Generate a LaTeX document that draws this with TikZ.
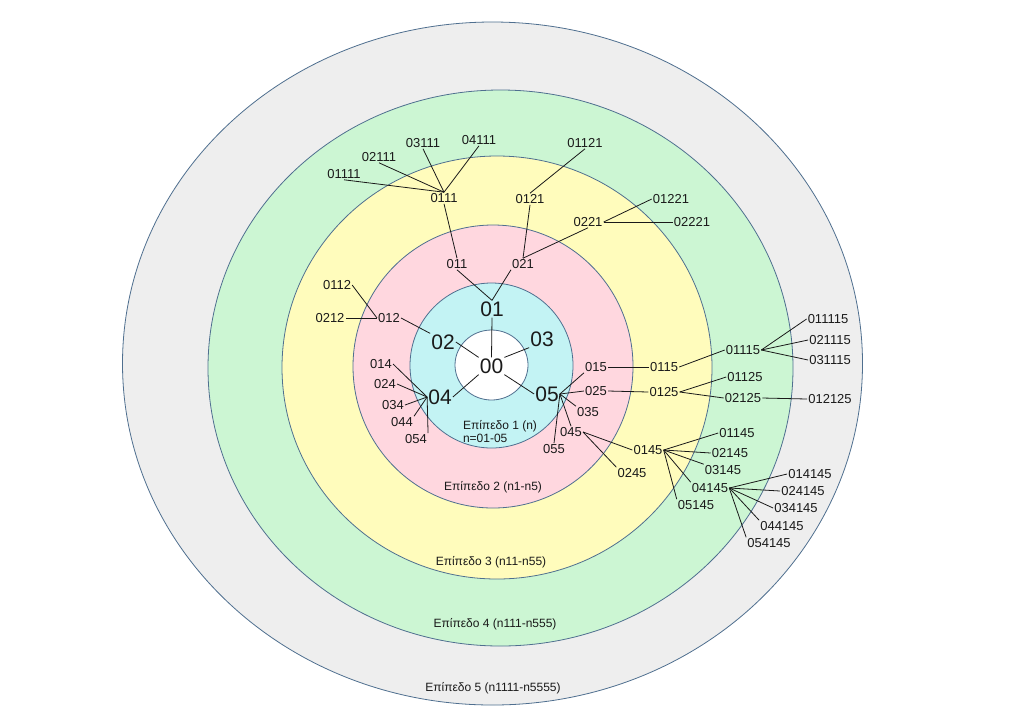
\documentclass[tikz,border=0pt]{standalone}
\usepackage{fontspec}
\setmainfont{Liberation Sans}
\usepackage{tikz}
\definecolor{RingGray}{HTML}{EEEEEE}
\definecolor{RingGreen}{HTML}{CCF6D3}
\definecolor{RingYellow}{HTML}{FFFCBC}
\definecolor{RingPink}{HTML}{FFD7DF}
\definecolor{RingCyan}{HTML}{C3F3F4}
\definecolor{RingLine}{HTML}{4F6F8F}
\definecolor{TextDark}{HTML}{1A1A1A}
\tikzset{
  ring/.style={draw=RingLine, line width=0.8pt},
  idx/.style={font=\fontsize{13}{13}\selectfont, text=TextDark, inner sep=1pt},
  idxbig/.style={font=\fontsize{21}{21}\selectfont, text=TextDark, inner sep=1pt},
  lvl/.style={font=\fontsize{12}{13}\selectfont, text=TextDark, inner sep=1pt},
  link/.style={draw=black!90, line width=0.8pt}
}
\begin{document}
\begin{tikzpicture}[x=1pt, y=-1pt]
\useasboundingbox (0,0) rectangle (1024,724);
\fill[white] (0,0) rectangle (1024,724);
% rings, outer to inner
\draw[ring, fill=RingGray]   (492.5,363.5) ellipse [x radius=370pt, y radius=341.5pt];
\draw[ring, fill=RingGreen]  (500.5,368) ellipse [x radius=292.5pt, y radius=278pt];
\draw[ring, fill=RingYellow] (497,367.5) ellipse [x radius=215pt, y radius=211.5pt];
\draw[ring, fill=RingPink]   (493,366.5) ellipse [x radius=140pt, y radius=141.5pt];
\draw[ring, fill=RingCyan]   (491.5,365.5) ellipse [x radius=81.5pt, y radius=82.5pt];
\draw[ring, fill=white]      (491.5,365) ellipse [x radius=36.5pt, y radius=35pt];

% level names
\node[lvl, align=left] (lvl1) at (500,432) {Επίπεδο 1 (n)\\n=01-05};
\node[lvl] (lvl2) at (493,487) {Επίπεδο 2 (n1-n5)};
\node[lvl] (lvl3) at (491,562) {Επίπεδο 3 (n11-n55)};
\node[lvl] (lvl4) at (495,624) {Επίπεδο 4 (n111-n555)};
\node[lvl] (lvl5) at (493,688) {Επίπεδο 5 (n1111-n5555)};

% level 1
\foreach \n/\x/\y in {00/491.5/366, 01/492/309, 02/443/342, 03/542/339, 04/440/397, 05/547/394}
  \node[idxbig] (n\n) at (\x,\y) {\n};

% levels 2-5
\foreach \n/\x/\y in {011/457/264, 021/523/264, 012/389/318, 014/381/364, 024/385/384,
    034/393/405, 044/402/422, 054/416/439, 015/596/367, 025/596/391, 035/588/412,
    045/571/432, 055/554/449,
    0111/444/198, 0121/530/199, 0221/588/222, 0112/337/285, 0212/330/318,
    0115/664/367, 0125/664/392, 0145/648/450, 0245/632/473,
    01111/344/174, 02111/379/157, 03111/423/143, 04111/479/140, 01121/585/143,
    01221/671/199, 02221/692/222, 01115/743/350, 01125/745/377, 02125/743/398,
    01145/737/433, 02145/730/453, 03145/723/470, 04145/710/488, 05145/696/505,
    011115/828/319, 021115/830/340, 031115/830/360, 012125/830/399,
    014145/810/474, 024145/803/491, 034145/796/508, 044145/782/526, 054145/769/543}
  \node[idx] (n\n) at (\x,\y) {\n};

% connectors
\foreach \a/\b in {n00.north/n01.south, n00.north west/n02.east, n00.north east/n03.south west,
    n00.south west/n04.east, n00.south east/n05.west,
    n01.north/n011.south, n01.north/n021.south west,
    n011.north/n0111.south, n021.north/n0121.south, n021.north/n0221.south,
    n0111.north/n01111.south, n0111.north/n02111.south, n0111.north/n03111.south,
    n0111.north/n04111.south, n0121.north/n01121.south,
    n0221.east/n01221.west, n0221.east/n02221.west,
    n02.north west/n012.east, n012.west/n0112.east, n012.west/n0212.east,
    n04.west/n014.east, n04.west/n024.east, n04.west/n034.east,
    n04.west/n044.north east, n04.west/n054.north east,
    n05.east/n015.south west, n05.east/n025.west, n05.east/n035.north west,
    n05.east/n045.north, n05.east/n055.north,
    n015.east/n0115.west, n025.east/n0125.west,
    n045.east/n0145.west, n045.east/n0245.north west,
    n0115.east/n01115.west, n0125.east/n01125.west, n0125.east/n02125.west,
    n02125.east/n012125.west,
    n01115.east/n011115.west, n01115.east/n021115.west, n01115.east/n031115.west,
    n0145.east/n01145.west, n0145.east/n02145.west, n0145.east/n03145.north west,
    n0145.east/n04145.north west, n0145.east/n05145.north west,
    n04145.east/n014145.west, n04145.east/n024145.west, n04145.east/n034145.west,
    n04145.east/n044145.north west, n04145.east/n054145.north west}
  \draw[link] (\a) -- (\b);
\end{tikzpicture}
\end{document}
